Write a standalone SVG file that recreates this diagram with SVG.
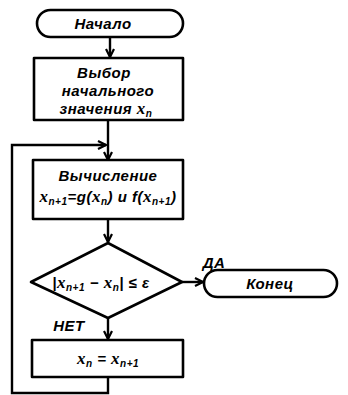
<svg xmlns="http://www.w3.org/2000/svg" width="348" height="395" viewBox="0 0 348 395">
<style>
.s{fill:none;stroke:#000;stroke-width:2.6;stroke-linejoin:round}
.t{font-family:"Liberation Sans",Arial,sans-serif;font-style:italic;font-weight:bold;font-size:15px;fill:#000;text-anchor:middle;letter-spacing:0.5px}
.c{stroke:#000;stroke-width:2.4;fill:none}
.sub{font-size:10px}
.m{font-family:"Liberation Serif",serif;font-size:17px}
</style>
<defs>
<marker id="a" viewBox="0 0 10 10" refX="9" refY="5" markerWidth="10" markerHeight="10" markerUnits="userSpaceOnUse" orient="auto">
<polyline points="1,1 9,5 1,9" fill="none" stroke="#000" stroke-width="2.2"/>
</marker>
</defs>
<rect width="348" height="395" fill="#fff"/>
<g id="connectors">
<line class="c" x1="110" y1="37" x2="110" y2="57" marker-end="url(#a)"/>
<line class="c" x1="108" y1="120" x2="108" y2="160" marker-end="url(#a)"/>
<polyline class="c" points="108,377 108,393 12,393 12,145 106,145" marker-end="url(#a)"/>
<line class="c" x1="108" y1="219" x2="108" y2="242" marker-end="url(#a)"/>
<line class="c" x1="182" y1="282" x2="203" y2="282" marker-end="url(#a)"/>
<line class="c" x1="108" y1="318" x2="108" y2="339" marker-end="url(#a)"/>
<text class="t" x="214" y="268" font-size="12">ДА</text>
<text class="t" x="69" y="331" font-size="12">НЕТ</text>
</g>
<g id="start">
<rect class="s" x="37" y="10" width="146" height="27" rx="13.5"/>
<text class="t" x="103" y="29">Начало</text>
</g>
<g id="init">
<rect class="s" x="34" y="58" width="149" height="62"/>
<text class="t" x="104" y="78">Выбор</text>
<text class="t" x="108" y="96">начального</text>
<text class="t" x="106" y="114">значения <tspan class="m">x</tspan><tspan class="sub" dy="3">n</tspan></text>
</g>
<g id="compute">
<rect class="s" x="33" y="160" width="150" height="59"/>
<text class="t" x="108" y="181">Вычисление</text>
<text class="t" x="108" y="202" font-size="13" letter-spacing="0"><tspan class="m">x</tspan><tspan class="sub" dy="3">n+1</tspan><tspan dy="-3">=g(</tspan><tspan class="m">x</tspan><tspan class="sub" dy="3">n</tspan><tspan dy="-3">) и f(</tspan><tspan class="m">x</tspan><tspan class="sub" dy="3">n+1</tspan><tspan dy="-3">)</tspan></text>
</g>
<g id="decision">
<polygon class="s" points="108,243 182,282 108,318 31,282"/>
<text class="t" x="101" y="288">|<tspan class="m">x</tspan><tspan class="sub" dy="3">n+1</tspan><tspan dy="-3"> − </tspan><tspan class="m">x</tspan><tspan class="sub" dy="3">n</tspan><tspan dy="-3">| ≤ ε</tspan></text>
</g>
<g id="end">
<rect class="s" x="204" y="270" width="133" height="27" rx="13.5"/>
<text class="t" x="270" y="289">Конец</text>
</g>
<g id="update">
<rect class="s" x="32" y="340" width="151" height="37"/>
<text class="t" x="108" y="364"><tspan class="m">x</tspan><tspan class="sub" dy="3">n</tspan><tspan dy="-3"> = </tspan><tspan class="m">x</tspan><tspan class="sub" dy="3">n+1</tspan></text>
</g>
</svg>
